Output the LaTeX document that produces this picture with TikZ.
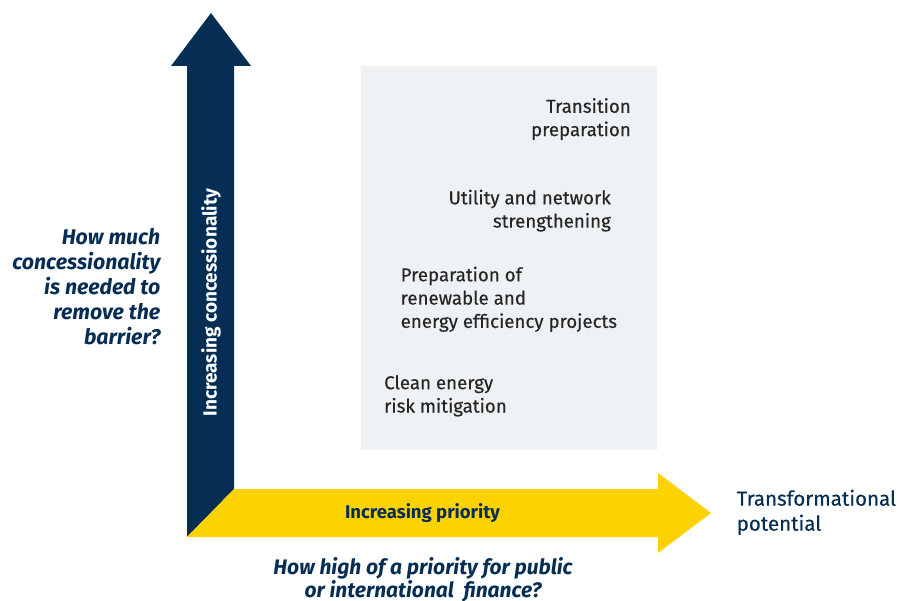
\documentclass[tikz,border=0pt]{standalone}
\usepackage{fontspec}
\setmainfont{Fira Sans}
\newfontfamily\medfont{Fira Sans}[FakeBold=0.35]
\definecolor{navy}{HTML}{062E55}
\definecolor{gold}{HTML}{FCD200}
\definecolor{panel}{HTML}{EEF2F4}
\definecolor{ink}{HTML}{262626}
\tikzset{
  item/.style={font=\medfont\fontsize{18.7}{23.3}\selectfont, text=ink, inner sep=0pt},
  question/.style={font=\fontsize{21.3}{25}\selectfont\bfseries\itshape, text=navy, inner sep=0pt},
  axislabel/.style={font=\bfseries, inner sep=0pt},
}
\begin{document}
\begin{tikzpicture}[x=1pt,y=-1pt]
\useasboundingbox (0,0) rectangle (899,601);
\fill[panel] (361,66) rectangle (657,450);
% vertical arrow
\fill[navy] (187,537) -- (187,66) -- (171,66) -- (211,13) -- (251,66) -- (234,66) -- (234,489) -- cycle;
% horizontal arrow
\fill[gold] (187,537) -- (234,489) -- (658,489) -- (658,473) -- (711,513) -- (658,553) -- (658,537) -- cycle;

\node[axislabel, font=\fontsize{19}{23}\selectfont\bfseries, text=white, rotate=90] (vlab) at (211,302.5) {Increasing concessionality};
\node[axislabel, font=\fontsize{18.5}{23}\selectfont\bfseries, text=navy] (hlab) at (422.5,513) {Increasing priority};

\node[item, anchor=north east, align=right] (t1) at (631,98) {Transition\\preparation};
\node[item, anchor=north east, align=right] (t2) at (611,189.5) {Utility and network\\strengthening};
\node[item, anchor=north west, align=left] (t3) at (400.5,266.5) {Preparation of\\renewable and\\energy efficiency projects};
\node[item, anchor=north west, align=left] (t4) at (384,375) {Clean energy\\risk mitigation};

\node[font=\medfont\fontsize{20.5}{25}\selectfont, text=navy, inner sep=0pt, anchor=north west, align=left] (tp) at (736.5,489.5) {Transformational\\potential};

\node[question, anchor=north east, align=right] (q1) at (160.5,228) {How much\\concessionality\\is needed to\\remove the\\barrier?};
\node[question, font=\fontsize{21}{23}\selectfont\bfseries\itshape, anchor=north, align=center] (q2) at (423,557.5) {How high of a priority for public\\or international\ \ finance?};
\end{tikzpicture}
\end{document}
